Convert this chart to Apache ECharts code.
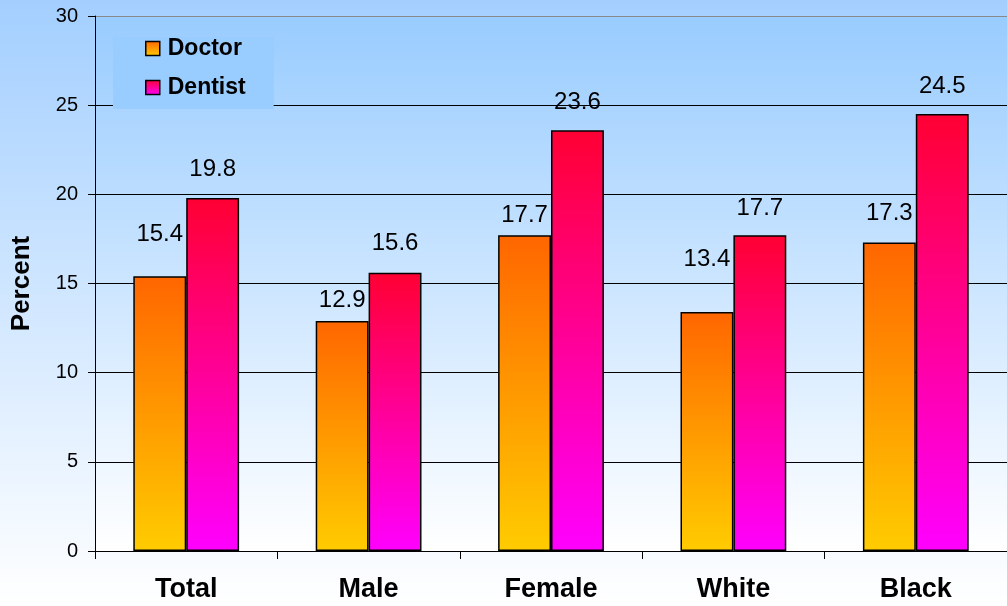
<!DOCTYPE html>
<html>
<head>
<meta charset="utf-8">
<script src="https://cdn.jsdelivr.net/npm/echarts@6/dist/echarts.min.js"></script>
<style>
  html, body { margin: 0; padding: 0; }
  #chart { width: 1007px; height: 606px; }
</style>
</head>
<body>
<div id="chart"></div>
<script>
// Share of people reporting a visit, by group
const categories = ['Total', 'Male', 'Female', 'White', 'Black'];
const doctor = [15.4, 12.9, 17.7, 13.4, 17.3];
const dentist = [19.8, 15.6, 23.6, 17.7, 24.5];

// Extra lift of each value label above its bar (px)
const doctorLabelLift = [30, 9, 8, 41, 17];
const dentistLabelLift = [17, 17, 16, 15, 16];

const FONT = 'Arial, "Liberation Sans", sans-serif';

function vGrad(top, bottom) {
  return new echarts.graphic.LinearGradient(0, 0, 0, 1, [
    { offset: 0, color: top },
    { offset: 1, color: bottom }
  ]);
}

function withLabels(values, lifts) {
  return values.map((v, i) => ({ value: v, label: { distance: lifts[i] } }));
}

const chart = echarts.init(document.getElementById('chart'));

chart.setOption({
  animation: false,
  backgroundColor: vGrad('#A3CFFF', '#FFFFFF'),
  textStyle: { fontFamily: FONT },
  grid: {
    left: 95, top: 16, right: 0, bottom: 55,
    show: true,
    borderWidth: 0,
    backgroundColor: vGrad('#99CCFF', '#FFFFFF')
  },
  legend: {
    orient: 'vertical',
    left: 113,
    top: 37,
    padding: [0, 28, 10, 32],
    itemGap: 16,
    itemWidth: 14,
    itemHeight: 14,
    backgroundColor: '#99CCFF',
    itemStyle: { borderColor: '#000', borderWidth: 1.5 },
    textStyle: { fontFamily: FONT, fontSize: 23, fontWeight: 'bold', color: '#000', padding: [0, 0, 0, 3] },
    data: [
      { name: 'Doctor', icon: 'rect' },
      { name: 'Dentist', icon: 'rect' }
    ]
  },
  xAxis: {
    type: 'category',
    data: categories,
    axisLine: { lineStyle: { color: '#000', width: 1 } },
    axisTick: { show: true, length: 8, alignWithLabel: false, lineStyle: { color: '#000' } },
    axisLabel: { margin: 25, fontFamily: FONT, fontSize: 27, fontWeight: 'bold', color: '#000' }
  },
  yAxis: {
    type: 'value',
    min: 0, max: 30, interval: 5,
    name: 'Percent',
    nameLocation: 'middle',
    nameGap: 60,
    nameTextStyle: { fontFamily: FONT, fontSize: 26, fontWeight: 'bold', color: '#000' },
    axisLine: { show: true, lineStyle: { color: '#000', width: 1 } },
    axisTick: { show: true, length: 7, lineStyle: { color: '#000' } },
    axisLabel: { margin: 17, fontFamily: FONT, fontSize: 20, color: '#000' },
    splitLine: {
      show: true,
      lineStyle: { color: ['#000', '#000', '#000', '#000', '#000', '#000', '#888'], width: 1 }
    }
  },
  series: [
    {
      name: 'Doctor',
      type: 'bar',
      data: withLabels(doctor, doctorLabelLift),
      barWidth: '29%',
      barGap: '0%',
      itemStyle: { color: vGrad('#FF6600', '#FFCC00'), borderColor: '#000', borderWidth: 1.5 },
      label: { show: true, position: 'top', fontFamily: FONT, fontSize: 24, color: '#000' }
    },
    {
      name: 'Dentist',
      type: 'bar',
      data: withLabels(dentist, dentistLabelLift),
      barWidth: '29%',
      barGap: '0%',
      itemStyle: { color: vGrad('#FF0033', '#FF00FF'), borderColor: '#000', borderWidth: 1.5 },
      label: { show: true, position: 'top', fontFamily: FONT, fontSize: 24, color: '#000' }
    }
  ]
});
</script>
</body>
</html>
